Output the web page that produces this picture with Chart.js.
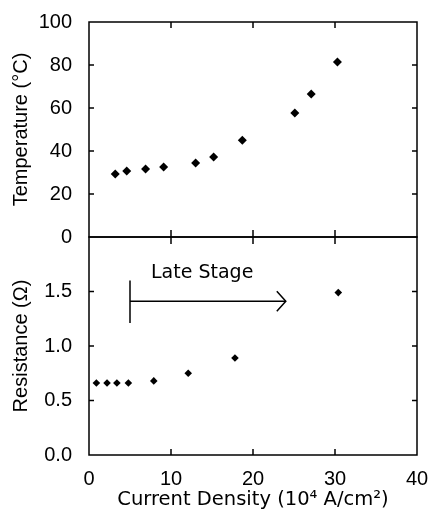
<!DOCTYPE html>
<html lang="en">
<head>
<meta charset="UTF-8">
<title>Temperature and Resistance vs Current Density</title>
<style>
    body { margin: 0; background: #fff; }
    .wrap { position: relative; width: 429px; height: 517px; }
    .wrap canvas { position: absolute; left: 0; top: 0; }
</style>
<script src="https://cdn.jsdelivr.net/npm/chart.js"></script>
</head>
<body>
<div class="wrap">
    <canvas id="tempChart" width="429" height="517"></canvas>
    <canvas id="resChart" width="429" height="517"></canvas>
</div>
<script>
// values
const tempDensity = [3.2, 4.6, 6.9, 9.1, 13.0, 15.2, 18.7, 25.1, 27.1, 30.3];
const temperature = [29.3, 30.7, 31.6, 32.6, 34.4, 37.2, 45.0, 57.7, 66.5, 81.4];
const resDensity = [0.9, 2.2, 3.4, 4.8, 7.9, 12.1, 17.8, 30.4];
const resistance = [0.66, 0.66, 0.66, 0.66, 0.68, 0.75, 0.89, 1.49];
const xTicks = [0, 10, 20, 30, 40];
const tempTicks = [0, 20, 40, 60, 80, 100];
const resTicks = [0, 0.5, 1.0, 1.5];
// "Late Stage" arrow, in data units
const lateStage = { from: 5, to: 24, y: 1.41, barLow: 1.21, barHigh: 1.60, labelX: 13.8, labelY: 1.67 };

const tickFont = { family: 'Liberation Sans, Arial, sans-serif', size: 20 };
const titleFont = { family: 'Liberation Sans, Arial, sans-serif', size: 20 };

function line(ctx, x1, y1, x2, y2) {
    ctx.beginPath();
    ctx.moveTo(x1, y1);
    ctx.lineTo(x2, y2);
    ctx.stroke();
}

// frame + inward tick marks, like the original plot
const framePlugin = {
    id: 'frame',
    afterDraw(chart, args, opts) {
        const { ctx, chartArea: a, scales } = chart;
        const x = scales.x, y = scales.y;
        ctx.save();
        ctx.strokeStyle = '#000';
        ctx.lineWidth = 1.5;
        ctx.strokeRect(a.left, a.top, a.right - a.left, a.bottom - a.top);
        opts.yTicks.forEach(v => {
            if (v === y.min || v === y.max) return;
            const py = y.getPixelForValue(v);
            line(ctx, a.left, py, a.left + 5, py);
            line(ctx, a.right, py, a.right - 5, py);
        });
        xTicks.forEach(v => {
            if (v === x.min || v === x.max) return;
            const px = x.getPixelForValue(v);
            if (opts.topEdge === 'in') line(ctx, px, a.top, px, a.top + 6);
            if (opts.bottomEdge === 'in') line(ctx, px, a.bottom, px, a.bottom - 6);
            if (opts.bottomEdge === 'cross') line(ctx, px, a.bottom - 7, px, a.bottom + 7);
        });
        ctx.restore();
    }
};

const arrowPlugin = {
    id: 'lateStage',
    afterDraw(chart) {
        const { ctx, scales: { x, y } } = chart;
        const x1 = x.getPixelForValue(lateStage.from);
        const x2 = x.getPixelForValue(lateStage.to);
        const py = y.getPixelForValue(lateStage.y);
        ctx.save();
        ctx.strokeStyle = '#000';
        ctx.lineWidth = 1.5;
        line(ctx, x1, y.getPixelForValue(lateStage.barLow), x1, y.getPixelForValue(lateStage.barHigh));
        line(ctx, x1, py, x2, py);
        ctx.beginPath();
        ctx.moveTo(x2 - 9, py - 10);
        ctx.lineTo(x2, py);
        ctx.lineTo(x2 - 9, py + 10);
        ctx.stroke();
        ctx.fillStyle = '#000';
        ctx.font = '19px "DejaVu Sans", sans-serif';
        ctx.textAlign = 'center';
        ctx.textBaseline = 'middle';
        ctx.fillText('Late Stage', x.getPixelForValue(lateStage.labelX), y.getPixelForValue(lateStage.labelY));
        ctx.restore();
    }
};

function points(xs, ys) {
    return xs.map((v, i) => ({ x: v, y: ys[i] }));
}

function yScale(min, max, ticks, fmt, title) {
    return {
        type: 'linear', min: min, max: max,
        afterBuildTicks: s => { s.ticks = ticks.map(v => ({ value: v })); },
        afterFit: s => { s.width = 89; },
        ticks: { color: '#000', font: tickFont, padding: 9, callback: fmt },
        grid: { display: false },
        border: { display: false },
        title: { display: true, text: title, color: '#000', font: titleFont, padding: { top: 9, bottom: 0 } }
    };
}

new Chart(document.getElementById('tempChart'), {
    type: 'scatter',
    data: {
        datasets: [{
            data: points(tempDensity, temperature),
            pointStyle: 'rectRot', pointRadius: 4.5,
            backgroundColor: '#000', borderColor: '#000', borderWidth: 0
        }]
    },
    options: {
        responsive: false,
        animation: false,
        layout: { padding: { top: 22, right: 12, bottom: 280, left: 0 } },
        plugins: {
            legend: { display: false },
            tooltip: { enabled: false },
            frame: { yTicks: tempTicks, topEdge: 'in', bottomEdge: 'cross' }
        },
        scales: {
            x: { type: 'linear', min: 0, max: 40, display: false },
            y: yScale(0, 100, tempTicks, v => String(v), 'Temperature (°C)')
        }
    },
    plugins: [framePlugin]
});

new Chart(document.getElementById('resChart'), {
    type: 'scatter',
    data: {
        datasets: [{
            data: points(resDensity, resistance),
            pointStyle: 'rectRot', pointRadius: 3.8,
            backgroundColor: '#000', borderColor: '#000', borderWidth: 0
        }]
    },
    options: {
        responsive: false,
        animation: false,
        layout: { padding: { top: 237, right: 12, bottom: 0, left: 0 } },
        plugins: {
            legend: { display: false },
            tooltip: { enabled: false },
            frame: { yTicks: resTicks, topEdge: 'none', bottomEdge: 'in' }
        },
        scales: {
            x: {
                type: 'linear', min: 0, max: 40,
                afterBuildTicks: s => { s.ticks = xTicks.map(v => ({ value: v })); },
                afterFit: s => { s.height = 62; s.paddingLeft = 0; s.paddingRight = 0; },
                ticks: { color: '#000', font: tickFont, padding: 4, maxRotation: 0 },
                grid: { display: false },
                border: { display: false },
                title: {
                    display: true, text: 'Current Density (10⁴ A/cm²)', color: '#000',
                    font: { family: 'DejaVu Sans, sans-serif', size: 19.5 },
                    padding: { top: 0, bottom: 5 }
                }
            },
            y: yScale(0, 2.0, resTicks, v => v.toFixed(1), 'Resistance (Ω)')
        }
    },
    plugins: [framePlugin, arrowPlugin]
});
</script>
</body>
</html>
